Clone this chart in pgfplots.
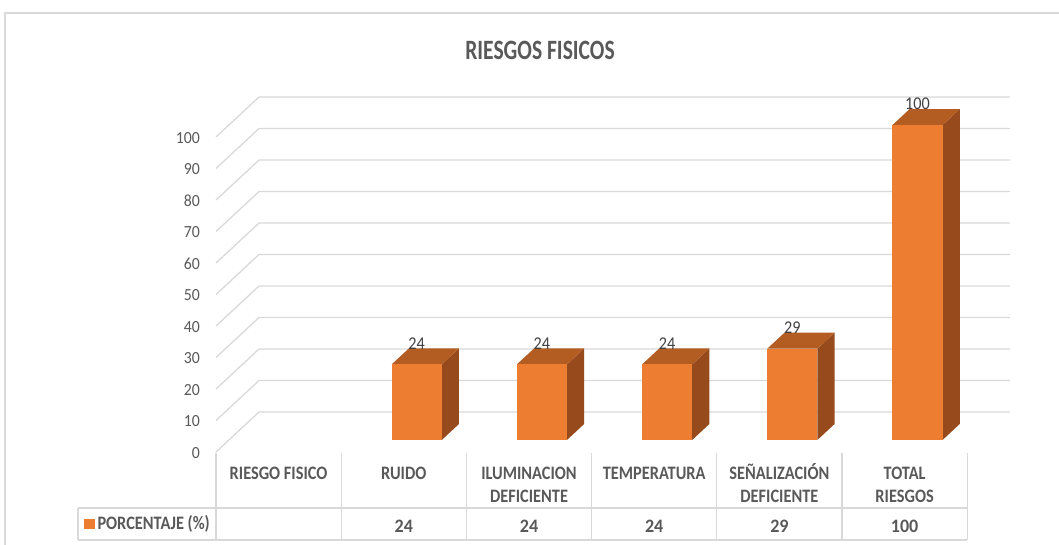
\documentclass[border=0pt]{standalone}
\usepackage{fontspec}
\setmainfont{Carlito}
\usepackage{graphicx}
\usepackage{pgfplots}
\pgfplotsset{compat=1.18}
\definecolor{barF}{HTML}{ED7D31}
\definecolor{barT}{HTML}{B45D23}
\definecolor{barS}{HTML}{974B1C}
\definecolor{gridc}{HTML}{D9D9D9}
\definecolor{txt}{HTML}{595959}
\definecolor{lab}{HTML}{404040}
\newcommand\sx[2]{\scalebox{#1}[1]{#2}}
% one 3D column: left x, right x, value
\newcommand\cube[3]{%
 \addplot3[draw=none, fill=barS, mark=none] coordinates {(#2,0.3,0) (#2,0.7,0) (#2,0.7,#3) (#2,0.3,#3)};
 \addplot3[draw=none, fill=barT, mark=none] coordinates {(#1,0.3,#3) (#2,0.3,#3) (#2,0.7,#3) (#1,0.7,#3)};
 \addplot3[draw=none, fill=barF, mark=none] coordinates {(#1,0.3,0) (#2,0.3,0) (#2,0.3,#3) (#1,0.3,#3)};
}
\begin{document}
\begin{tikzpicture}
\begin{axis}[
  anchor=origin, at={(216pt,-452pt)},
  x={(125.2pt,0pt)}, y={(43pt,40pt)}, z={(0pt,3.15pt)},
  xmin=0, xmax=6, ymin=0, ymax=1, zmin=0, zmax=100,
  hide axis, clip=false,
]
% walls
\pgfplotsinvokeforeach{0,10,...,100}{
  \addplot3[color=gridc, line width=1.3pt, mark=none] coordinates {(0,0,#1) (0,1,#1) (6,1,#1)};
  \node[anchor=east, inner sep=0pt, xshift=-16pt, yshift=-1pt, text=txt,
        font=\fontsize{17}{17}\selectfont] at (axis cs:0,0,#1) {\sx{0.93}{#1}};
}
% columns (RUIDO, ILUMINACION, TEMPERATURA, SENALIZACION, TOTAL)
\cube{1.3}{1.7}{24}
\cube{2.3}{2.7}{24}
\cube{3.3}{3.7}{24}
\cube{4.3}{4.7}{29}
\cube{5.3}{5.7}{100}
% data labels
\addplot3[draw=none, mark=none, point meta=explicit symbolic,
  nodes near coords={\sx{0.9}{\pgfplotspointmeta}},
  every node near coord/.style={anchor=south, inner sep=0pt, yshift=15pt,
     font=\fontsize{18}{18}\selectfont, text=lab}]
  coordinates {(1.5,0.3,24) [24] (2.5,0.3,24) [24] (3.5,0.3,24) [24] (4.5,0.3,29) [29] (5.5,0.3,100) [100]};
\end{axis}
\begin{scope}[x=1pt, y=-1pt]
% frame
\draw[gridc, line width=1.2pt] (5,600) -- (5,13) -- (1100,13);
% title
\node[anchor=base, inner sep=0pt, text=txt, font=\fontsize{28}{28}\selectfont\bfseries] at (540,59) {\sx{0.77}{RIESGOS FISICOS}};
% data table
\foreach \xx in {216,341.2,466.4,591.6,716.8,842,967.2} {
  \draw[gridc, line width=1.2pt] (\xx,453) -- (\xx,540);
}
\draw[gridc, line width=1.2pt] (78,508) -- (967.2,508);
\draw[gridc, line width=1.2pt] (78,540) -- (967.2,540);
\draw[gridc, line width=1.2pt] (78,508) -- (78,540);
\begin{scope}[every node/.style={anchor=base, inner sep=0pt, text=txt, font=\fontsize{19}{19}\selectfont\bfseries}]
\node at (278.6,479.5) {\sx{0.86}{RIESGO FISICO}};
\node at (403.8,479.5) {\sx{0.86}{RUIDO}};
\node at (529,479.5) {\sx{0.86}{ILUMINACION}};
\node at (529,502) {\sx{0.86}{DEFICIENTE}};
\node at (654.2,479.5) {\sx{0.86}{TEMPERATURA}};
\node at (779.4,479.5) {\sx{0.86}{SEÑALIZACIÓN}};
\node at (779.4,502) {\sx{0.86}{DEFICIENTE}};
\node at (904.6,479.5) {\sx{0.86}{TOTAL}};
\node at (904.6,502) {\sx{0.86}{RIESGOS}};
\node at (403.8,532) {\sx{0.95}{24}};
\node at (529,532) {\sx{0.95}{24}};
\node at (654.2,532) {\sx{0.95}{24}};
\node at (779.4,532) {\sx{0.95}{29}};
\node at (904.6,532) {\sx{0.95}{100}};
\node[anchor=base west] at (97.3,529) {\sx{0.86}{PORCENTAJE (\%)}};
\end{scope}
\fill[barF] (84,518.5) rectangle (94.5,529);
\end{scope}
\pgfresetboundingbox
\path (0pt,0pt) rectangle (1059pt,-544pt);
\end{tikzpicture}
\end{document}
